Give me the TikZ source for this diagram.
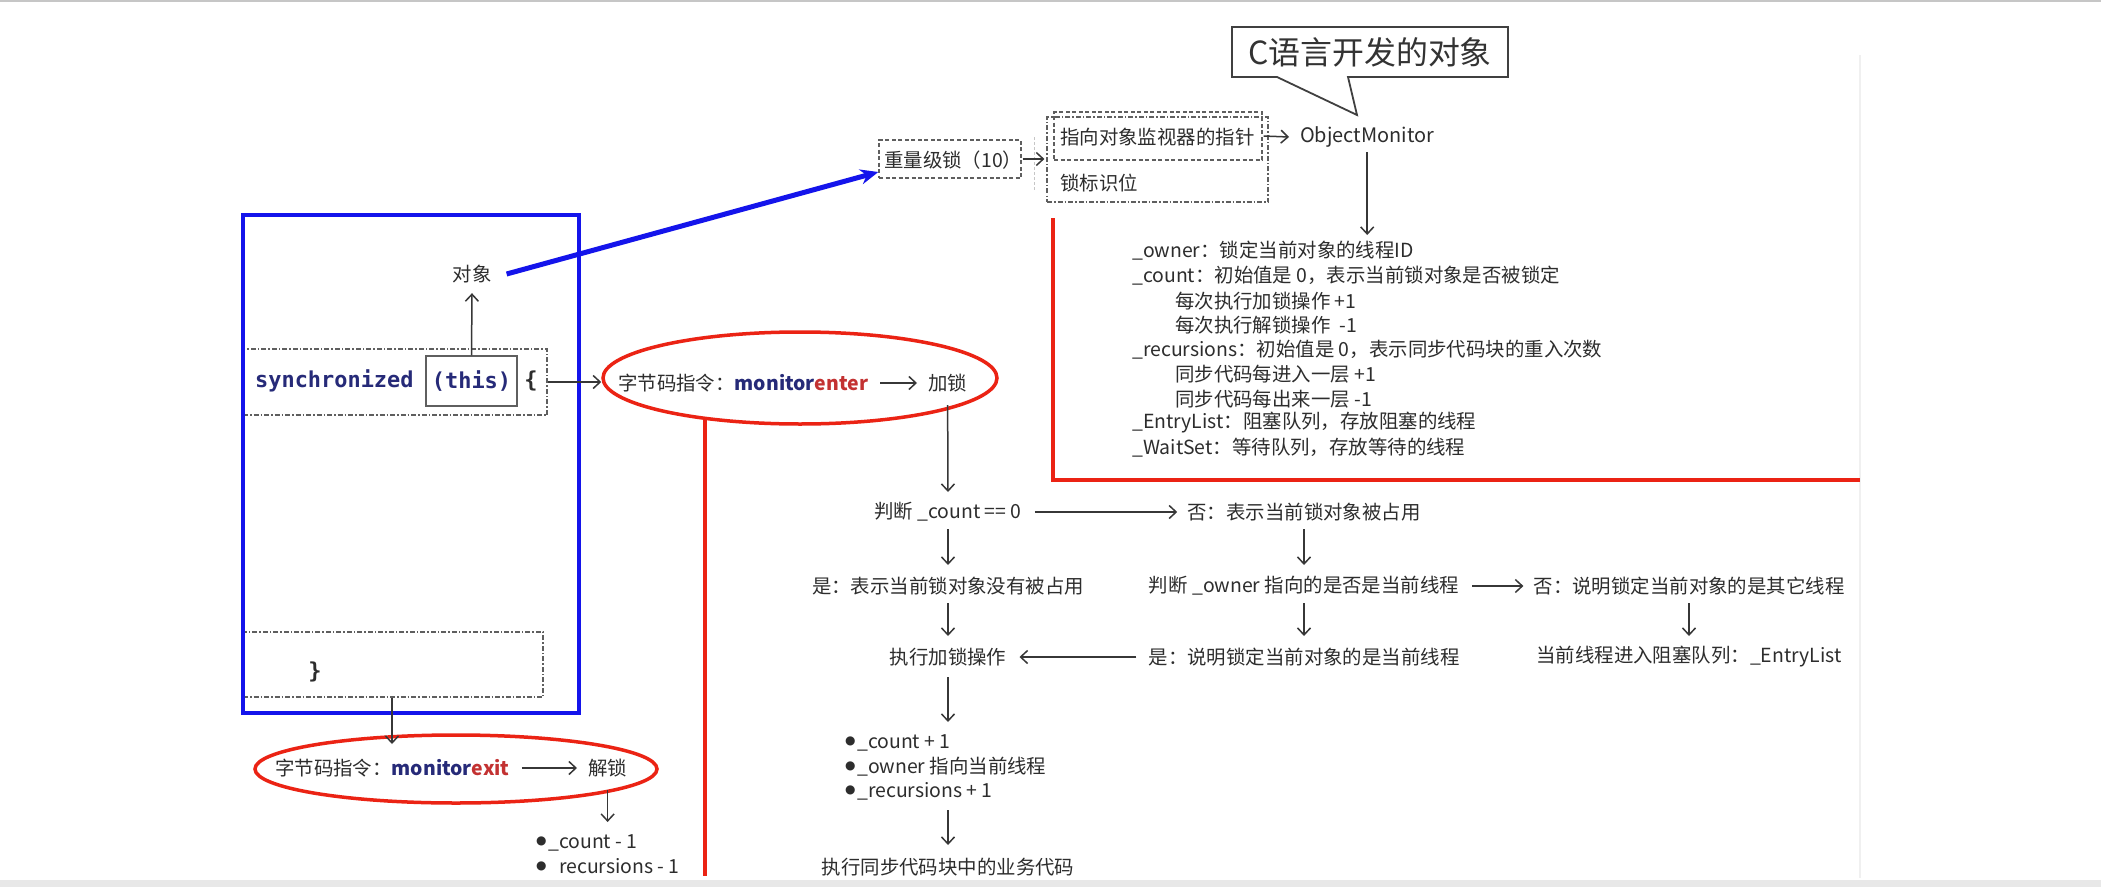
\documentclass[tikz,border=0pt]{standalone}
\usepackage{fontspec}
\setmainfont{Noto Sans CJK SC}
\newfontfamily\codefont{DejaVu Sans Mono}
\newfontfamily\dejavu{DejaVu Sans}
\usetikzlibrary{arrows.meta,shapes.geometric,calc}
\definecolor{txtgray}{RGB}{45,45,45}
\definecolor{arrgray}{RGB}{55,55,55}
\definecolor{boxgray}{RGB}{95,95,95}
\definecolor{myblue}{RGB}{20,20,235}
\definecolor{myred}{RGB}{235,35,20}
\definecolor{navyc}{RGB}{38,42,120}
\definecolor{darkredc}{RGB}{195,50,50}
\definecolor{bandgray}{RGB}{232,232,232}
\newcommand\myfs{\fontsize{19.5}{24}\selectfont}
\newcommand\bul{\makebox[12bp][l]{\raisebox{4bp}{\dejavu\fontsize{12}{12}\selectfont ●}}}
\tikzset{
  lbl/.style={inner sep=0pt, text=txtgray, font=\myfs},
  arr/.style={draw=arrgray, line width=1.5bp, -{Straight Barb[length=7bp,width=13bp,line width=1.5bp]}},
  dashdotbox/.style={draw=boxgray, line width=1.2bp, dash pattern=on 5bp off 2bp on 1.5bp off 2bp, inner sep=0pt},
  dashbox/.style={draw=boxgray, line width=1.2bp, dash pattern=on 4bp off 2.5bp, inner sep=0pt},
  redring/.style={ellipse, draw=myred, line width=3.5bp, inner sep=0pt},
  redline/.style={draw=myred, line width=3.5bp},
  code/.style={inner sep=0pt, text=navyc, font=\codefont\bfseries\fontsize{22}{26}\selectfont},
}
\begin{document}
\begin{tikzpicture}[x=1bp,y=-1bp]
\useasboundingbox (0,0) rectangle (2101,887);
\fill[white] (0,0) rectangle (2101,887);
\fill[gray!45] (0,0) rectangle (2101,2);
\fill[bandgray] (0,880) rectangle (2101,887);
\draw[gray!12, line width=1.5bp] (1860,55) -- (1860,878);

% ---------- left code block ----------
\node[dashdotbox, minimum width=304bp, minimum height=66bp] (syncbox) at (395,382) {};
\node[code, anchor=west] (sync) at (255,381) {synchronized};
\node[code, draw=boxgray, line width=1.5bp, minimum width=91bp, minimum height=50bp] (this) at (471.5,381) {(this)};
\node[code, text=txtgray] (lbrace) at (531,381) {\{};
\node[lbl] (obj) at (472,274) {对象};
\draw[arr] (this.north) -- ([yshift=-10bp]obj.south);

\node[dashdotbox, minimum width=300bp, minimum height=65bp] (endbox) at (393,664.5) {};
\node[code, text=txtgray] (rbrace) at (315,672) {\}};

\draw[myblue, line width=4bp] (243,215) rectangle (579,713);

% ---------- monitorenter ----------
\node[redring, minimum width=394bp, minimum height=92bp] (enter) at (800,378) {};
\node[lbl, anchor=west] (enterlbl) at (618,383) {字节码指令：{\bfseries\color{navyc}monitor}{\bfseries\color{darkredc}enter}};
\node[lbl, anchor=west] (jiasuo) at (928,383) {加锁};
\draw[arr] ([xshift=12bp]enterlbl.east) -- ([xshift=-11bp]jiasuo.west);
\draw[arr] (syncbox.east) -- (syncbox.east -| enter.west);
\draw[redline] (705,420) -- (705,876);

% ---------- monitorexit ----------
\node[redring, minimum width=402bp, minimum height=68bp] (exit) at (456,769) {};
\node[lbl, anchor=west] (exitlbl) at (275,768) {字节码指令：{\bfseries\color{navyc}monitor}{\bfseries\color{darkredc}exit}};
\node[lbl, anchor=west] (jiesuo) at (588,768) {解锁};
\draw[arr] ([xshift=12bp]exitlbl.east) -- ([xshift=-11bp]jiesuo.west);
\draw[arr] (endbox.south -| 392,0) -- ($(exit.center)+(-64,-25)$);
\node[lbl, anchor=west] (d1) at (536,843) {\bul\_count - 1};
\node[lbl, anchor=west] (d2) at (536,867) {\bul\phantom{\_}recursions - 1};
\draw[arr] ($(jiesuo)+(0,22)$) -- ($(jiesuo |- d1)+(0,-21)$);

% ---------- heavyweight lock / ObjectMonitor ----------
\node[dashbox, minimum width=142bp, minimum height=38bp] (heavy) at (950,159) {};
\node[lbl, anchor=west] (heavylbl) at (884,160) {重量级锁（10）};
\node[dashdotbox, minimum width=221bp, minimum height=85bp] (mw) at (1157.5,159.5) {};
\node[dashbox, minimum width=208bp, minimum height=48bp] (ptr) at (1158,136) {};
\node[lbl, anchor=west] (ptrlbl) at (1060,137) {指向对象监视器的指针};
\node[lbl, anchor=west] (flag) at (1060,183) {锁标识位};
\draw[gray!45, line width=1bp, dash pattern=on 3bp off 2bp] (1034,137) -- (1034,190);
\draw[arr] ([xshift=1bp]heavy.east) -- ([xshift=-2bp]mw.west |- heavy.east);
\node[lbl, anchor=west, font=\fontsize{20}{24}\selectfont] (om) at (1300,137) {ObjectMonitor};
\draw[arr] ([xshift=1bp]ptr.east) -- ([xshift=-11bp]om.west);
\draw[myblue, line width=5bp, -{Stealth[length=18bp,width=15bp]}] ([xshift=15bp]obj.east) -- ($(heavy.west)+(0,13)$);

% callout
\draw[draw=black!75, line width=1.8bp, fill=white] (1232,27) -- (1508,27) -- (1508,77) -- (1348,77) -- (1357,115) -- (1277,77) -- (1232,77) -- cycle;
\node[lbl, font=\fontsize{32}{36}\selectfont, text=black!80] (title) at (1370,52) {C语言开发的对象};

% red frame around fields
\draw[redline] (1053,218) -- (1053,480) -- (1860,480);

% fields
\node[lbl, anchor=west] (f1) at (1132,251) {\_owner：锁定当前对象的线程ID};
\node[lbl, anchor=west] (f2) at (1132,276) {\_count：初始值是 0，表示当前锁对象是否被锁定};
\node[lbl, anchor=west] (f3) at (1175,301) {每次执行加锁操作 +1};
\node[lbl, anchor=west] (f4) at (1175,325) {每次执行解锁操作 \ -1};
\node[lbl, anchor=west] (f5) at (1132,350) {\_recursions：初始值是 0，表示同步代码块的重入次数};
\node[lbl, anchor=west] (f6) at (1175,374) {同步代码每进入一层 +1};
\node[lbl, anchor=west] (f7) at (1175,399) {同步代码每出来一层 -1};
\node[lbl, anchor=west] (f8) at (1132,423) {\_EntryList：阻塞队列，存放阻塞的线程};
\node[lbl, anchor=west] (f9) at (1132,448) {\_WaitSet：等待队列，存放等待的线程};
\draw[arr] ($(om.center)+(0,15)$) -- ($(om.center |- f1)+(0,-16)$);

% ---------- flow ----------
\node[lbl] (cnt) at (948,512) {判断 \_count == 0};
\node[lbl] (no1) at (1304,512) {否：表示当前锁对象被占用};
\node[lbl] (yes1) at (948,586) {是：表示当前锁对象没有被占用};
\node[lbl] (own) at (1304,586) {判断 \_owner 指向的是否是当前线程};
\node[lbl] (no2) at (1689,586) {否：说明锁定当前对象的是其它线程};
\node[lbl] (entry) at (1689,657) {当前线程进入阻塞队列：\_EntryList};
\node[lbl] (yes2) at (1304,657) {是：说明锁定当前对象的是当前线程};
\node[lbl] (lock) at (948,657) {执行加锁操作};
\node[lbl, anchor=west] (o1) at (845,743) {\bul\_count + 1};
\node[lbl, anchor=west] (o2) at (845,767) {\bul\_owner 指向当前线程};
\node[lbl, anchor=west] (o3) at (845,791) {\bul\_recursions + 1};
\node[lbl] (biz) at (948,867) {执行同步代码块中的业务代码};

\draw[arr] ($(jiasuo.center)+(0,22)$) -- ($(cnt.center)+(0,-20)$);
\draw[arr] ([xshift=13bp]cnt.east) -- ([xshift=-10bp]no1.west);
\draw[arr] ($(cnt.center)+(0,17)$) -- ($(yes1.center)+(0,-21)$);
\draw[arr] ($(no1.center)+(0,17)$) -- ($(own.center)+(0,-21)$);
\draw[arr] ([xshift=13bp]own.east) -- ([xshift=-10bp]no2.west);
\draw[arr] ($(own.center)+(0,17)$) -- ($(yes2.center)+(0,-21)$);
\draw[arr] ($(no2.center)+(0,17)$) -- ($(entry.center)+(0,-21)$);
\draw[arr] ($(yes1.center)+(0,17)$) -- ($(lock.center)+(0,-21)$);
\draw[arr] ([xshift=-12bp]yes2.west) -- ([xshift=13bp]lock.east);
\draw[arr] ($(lock.center)+(0,20)$) -- ($(lock.center |- o1)+(0,-21)$);
\draw[arr] ($(lock.center |- o3)+(0,19)$) -- ($(biz.center)+(0,-22)$);
\end{tikzpicture}
\end{document}
